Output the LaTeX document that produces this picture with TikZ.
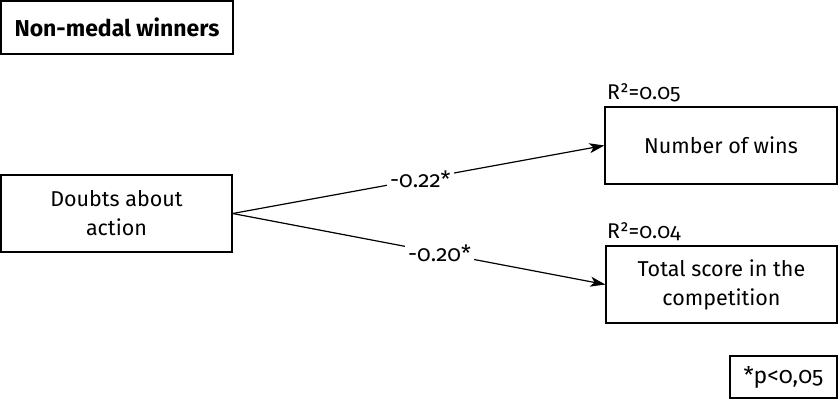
\documentclass[tikz,border=0pt]{standalone}
\usepackage{fontspec}
\setmainfont{Fira Sans}[Numbers=OldStyle]
\usetikzlibrary{arrows.meta}
\begin{document}
\begin{tikzpicture}[x=1pt,y=-1pt,
  box/.style={draw, line width=1.3pt, inner sep=0pt, align=center, font=\fontsize{21.5}{29}\selectfont},
  arr/.style={line width=1.2pt, -{Stealth[length=15pt,width=10pt,inset=4pt]}},
  lab/.style={fill=white, inner sep=3pt, font=\fontsize{22.5}{24}\selectfont},
  rsq/.style={anchor=south west, inner sep=0pt, font=\fontsize{21.3}{24}\selectfont}]
\useasboundingbox (0,0) rectangle (839,400);
\node[box, minimum width=232pt, minimum height=53pt, font=\fontsize{23}{26}\selectfont\bfseries] (title) at (117,27.5) {Non-medal winners};
\node[box, minimum width=231pt, minimum height=77pt] (doubts) at (116.5,213.5) {Doubts about\\action};
\node[box, minimum width=232pt, minimum height=77pt] (wins) at (721,145.5) {Number of wins};
\node[box, minimum width=231pt, minimum height=77pt] (total) at (721.5,284.5) {Total score in the\\competition};
\node[box, minimum width=107pt, minimum height=42pt, font=\fontsize{23}{26}\selectfont] (pbox) at (783.5,377) {*p<0,05};
\node[rsq] (r1) at (607,102) {R²=0.05};
\node[rsq] (r2) at (607,241) {R²=0.04};
\draw[arr] (doubts.east) -- node[lab, pos=0.505] (l1) {-0.22*} (wins.west);
\draw[arr] (doubts.east) -- node[lab, pos=0.555] (l2) {-0.20*} (total.west);
\end{tikzpicture}
\end{document}
